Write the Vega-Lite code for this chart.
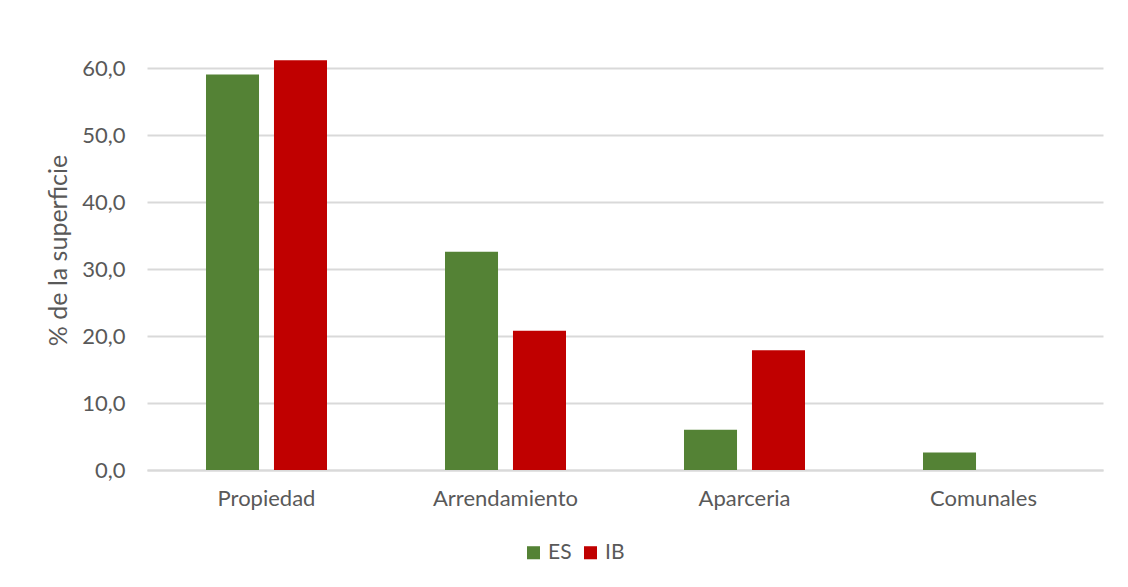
{
  "$schema": "https://vega.github.io/schema/vega-lite/v6.json",
  "autosize": {"type": "none"},
  "padding": {"left": 147, "top": 55, "right": 25, "bottom": 117},
  "width": 956,
  "height": 415,
  "background": "white",
  "data": {
    "values": [
      {"regimen": "Propiedad", "serie": "ES", "valor": 59.1},
      {"regimen": "Propiedad", "serie": "IB", "valor": 61.2},
      {"regimen": "Arrendamiento", "serie": "ES", "valor": 32.6},
      {"regimen": "Arrendamiento", "serie": "IB", "valor": 20.8},
      {"regimen": "Aparceria", "serie": "ES", "valor": 6.0},
      {"regimen": "Aparceria", "serie": "IB", "valor": 17.9},
      {"regimen": "Comunales", "serie": "ES", "valor": 2.6},
      {"regimen": "Comunales", "serie": "IB", "valor": 0}
    ]
  },
  "mark": {"type": "bar", "clip": false},
  "encoding": {
    "x": {
      "field": "regimen",
      "type": "nominal",
      "sort": ["Propiedad", "Arrendamiento", "Aparceria", "Comunales"],
      "scale": {"paddingInner": 0.4937, "paddingOuter": 0.24685},
      "axis": {
        "title": null,
        "labelAngle": 0,
        "ticks": false,
        "domainColor": "#d9d9d9",
        "domainWidth": 2,
        "labelFont": "Lato",
        "labelFontSize": 22,
        "labelColor": "#595959",
        "labelPadding": 18
      }
    },
    "xOffset": {
      "field": "serie",
      "type": "nominal",
      "sort": ["ES", "IB"],
      "scale": {"paddingInner": 0.22, "paddingOuter": 0}
    },
    "y": {
      "field": "valor",
      "type": "quantitative",
      "scale": {"domain": [0, 62], "nice": false},
      "axis": {
        "title": "% de la superficie",
        "values": [0, 10, 20, 30, 40, 50, 60],
        "labelExpr": "replace(format(datum.value, '.1f'), '.', ',')",
        "ticks": false,
        "domain": false,
        "gridColor": "#d9d9d9",
        "gridWidth": 2,
        "labelFont": "Lato",
        "labelFontSize": 22,
        "labelColor": "#595959",
        "labelPadding": 22,
        "titleFont": "Lato",
        "titleFontSize": 25,
        "titleFontWeight": "normal",
        "titleColor": "#595959",
        "titlePadding": 10,
        "titleY": 195
      }
    },
    "color": {
      "field": "serie",
      "type": "nominal",
      "scale": {"domain": ["ES", "IB"], "range": ["#548235", "#C00000"]},
      "legend": {
        "title": null,
        "orient": "none",
        "legendX": 376,
        "legendY": 487,
        "direction": "horizontal",
        "symbolType": "square",
        "symbolSize": 170,
        "symbolStrokeWidth": 0,
        "labelFont": "Lato",
        "labelFontSize": 21,
        "labelColor": "#595959",
        "columnPadding": 8,
        "labelOffset": 4
      }
    }
  },
  "config": {"view": {"stroke": null}}
}
